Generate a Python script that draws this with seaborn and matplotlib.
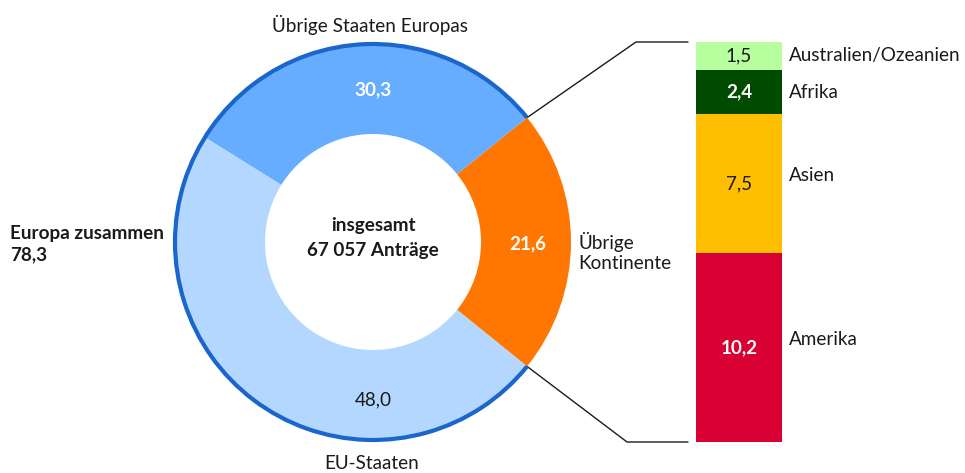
import numpy as np
import pandas as pd
import seaborn as sns
import matplotlib
matplotlib.use("Agg")
import matplotlib.pyplot as plt
from matplotlib.patches import Arc

# ---- data ----
ring_labels = ["Übrige Kontinente", "Übrige Staaten Europas", "EU-Staaten"]
ring_values = [21.6, 30.3, 48.0]
ring_colors = ["#ff7700", "#66adff", "#b3d7ff"]
europe_total = 78.3
total_text = ["insgesamt", "67 057 Anträge"]

bar_labels = ["Australien/Ozeanien", "Afrika", "Asien", "Amerika"]
bar_values = [1.5, 2.4, 7.5, 10.2]
bar_colors = ["#b8ffa0", "#004b00", "#ffbf00", "#d90033"]
bar_text_colors = ["#1a1a1a", "white", "#1a1a1a", "white"]

def fmt(v):
    return f"{v:.1f}".replace(".", ",")

sns.set_theme(style="white")
plt.rcParams["font.family"] = ["Lato", "DejaVu Sans"]
FS = 13.6

W, H = 965, 473
fig = plt.figure(figsize=(W / 100, H / 100), dpi=100)

# overlay for free text/lines in pixel coords
ov = fig.add_axes([0, 0, 1, 1])
ov.set_xlim(0, W)
ov.set_ylim(H, 0)
ov.axis("off")

# ---- donut ----
cx, cy, R, r_in = 373, 242, 198, 108
ax = fig.add_axes([(cx - 210) / W, (H - cy - 210) / H, 420 / W, 420 / H])
start = -ring_values[0] / sum(ring_values) * 360 / 2
wedges, _ = ax.pie(ring_values, colors=ring_colors, startangle=start, counterclock=True,
                   radius=R, wedgeprops=dict(width=R - r_in, linewidth=0))
ax.set_xlim(-210, 210)
ax.set_ylim(-210, 210)
ax.set_aspect("equal")
ax.axis("off")
ax.add_patch(Arc((0, 0), 2 * R, 2 * R, theta1=wedges[0].theta2, theta2=wedges[0].theta1 + 360,
                 color="#1a66cc", lw=3, zorder=5))

label_angles = [0, 90, 270]
label_r = [155, 154, 156]
for w, v, col, a, rr in zip(wedges, ring_values, ["white", "white", "#1a1a1a"], label_angles, label_r):
    ang = np.deg2rad(a)
    ax.text(rr * np.cos(ang), rr * np.sin(ang) - 2, fmt(v), ha="center", va="center",
            color=col, fontsize=FS, fontweight="bold" if col == "white" else "normal")

ax.text(0, 17, total_text[0], ha="center", va="center", fontsize=FS, fontweight="bold", color="#1a1a1a")
ax.text(0, -8, total_text[1], ha="center", va="center", fontsize=FS, fontweight="bold", color="#1a1a1a")

ov.text(370, 25, ring_labels[1], ha="center", va="center", fontsize=FS, color="#1a1a1a")
ov.text(372, 463, ring_labels[2], ha="center", va="center", fontsize=FS, color="#1a1a1a")
ov.text(578, 252, "Übrige\nKontinente", ha="left", va="center", fontsize=FS, color="#1a1a1a",
        linespacing=1.2)
ov.text(10, 244, "Europa zusammen\n" + fmt(europe_total), ha="left", va="center", fontsize=FS,
        fontweight="bold", color="#1a1a1a", linespacing=1.25)

# ---- stacked bar ----
bx0, bx1, by0, by1 = 696, 782, 42, 442
bax = fig.add_axes([bx0 / W, (H - by1) / H, (bx1 - bx0) / W, (by1 - by0) / H])
order_bottom_up = list(range(len(bar_values)))[::-1]
cum = np.cumsum([bar_values[i] for i in order_bottom_up])
cum_by_idx = {i: c for i, c in zip(order_bottom_up, cum)}
for i in range(len(bar_values)):  # top segment first (largest cumulative)
    df = pd.DataFrame({"x": ["stack"], "y": [cum_by_idx[i]]})
    sns.barplot(data=df, x="x", y="y", color=bar_colors[i], saturation=1, width=1.0,
                ax=bax, linewidth=0)
bax.set_xlim(-0.5, 0.5)
bax.set_ylim(0, cum[-1])
bax.axis("off")

for i, (lab, v) in enumerate(zip(bar_labels, bar_values)):
    mid = cum_by_idx[i] - v / 2
    bax.text(0, mid, fmt(v), ha="center", va="center", fontsize=FS, color=bar_text_colors[i],
             fontweight="bold" if bar_text_colors[i] == "white" else "normal")
    ypix = by1 - mid / cum[-1] * (by1 - by0)
    off = -8 if v > 5 else 0
    ov.text(789, ypix + off, lab, ha="left", va="center", fontsize=FS, color="#1a1a1a")

# ---- connector lines ----
t_top = np.deg2rad(wedges[0].theta2)
t_bot = np.deg2rad(wedges[0].theta1)
p_top = (cx + R * np.cos(t_top), cy - R * np.sin(t_top))
p_bot = (cx + R * np.cos(t_bot), cy - R * np.sin(t_bot))
ov.plot([p_top[0], 636, 688], [p_top[1], by0, by0], color="#1a1a1a", lw=1)
ov.plot([p_bot[0], 627, 688], [p_bot[1], by1, by1], color="#1a1a1a", lw=1)

fig.savefig("out.png", dpi=100)
